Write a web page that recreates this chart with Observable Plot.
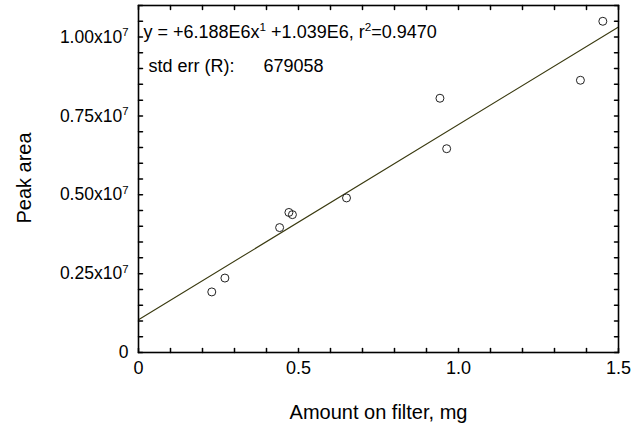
<!DOCTYPE html>
<html>
<head>
<meta charset="utf-8">
<script src="https://cdn.jsdelivr.net/npm/d3@7"></script>
<script src="https://cdn.jsdelivr.net/npm/@observablehq/plot@0.6"></script>
<style>
  html, body { margin: 0; padding: 0; background: #fff; }
  svg { font-family: "Liberation Sans", Arial, sans-serif; }
</style>
</head>
<body>
<div id="chart"></div>
<script>
// Data
const amount = [0.229, 0.270, 0.441, 0.470, 0.481, 0.650, 0.942, 0.963, 1.381, 1.451];
const peakArea = [1.92e6, 2.36e6, 3.96e6, 4.44e6, 4.37e6, 4.90e6, 8.06e6, 6.46e6, 8.63e6, 10.50e6];

// Fitted line reported on the chart
const slope = 6.188e6;
const intercept = 1.039e6;
const fitX = [0, 1.5];

// Tick values
const xMajor = [0, 0.5, 1.0, 1.5];
const xMajorLabels = ["0", "0.5", "1.0", "1.5"];
const xMinor = d3.range(0, 16).map(i => i / 10);
const yMajor = [0, 0.25e7, 0.5e7, 0.75e7, 1.0e7];
const yMajorLabels = ["0", "0.25x10^7", "0.50x10^7", "0.75x10^7", "1.00x10^7"];
const yMinor = d3.range(0, 23).map(i => i * 0.05e7);

// Annotation texts
const eqText = ["y = +6.188E6x^1 +1.039E6, r^2=0.9470"];
const errLabel = ["std err (R):"];
const errValue = ["679058"];
const xTitle = ["Amount on filter, mg"];
const yTitle = ["Peak area"];

const points = amount.map((a, i) => ({x: a, y: peakArea[i]}));
const fit = fitX.map(x => ({x, y: slope * x + intercept}));

const tickShape = {draw(context, l) { context.moveTo(0, 0); context.lineTo(0, -l); }};
const tickLen = 4;

const chart = Plot.plot({
  width: 642,
  height: 435,
  marginLeft: 138,
  marginRight: 24,
  marginTop: 5,
  marginBottom: 83,
  style: {fontFamily: '"Liberation Sans", Arial, sans-serif', background: "#fff"},
  x: {domain: [0, 1.5]},
  y: {domain: [0, 1.1e7]},
  marks: [
    Plot.axisX({anchor: "bottom", ticks: xMajor, tickSize: 0, tickPadding: 9, tickFormat: d => xMajorLabels[xMajor.indexOf(d)], fontSize: 18, label: null, fill: "#000"}),
    Plot.axisY({anchor: "left", ticks: yMajor, tickSize: 0, tickPadding: 10, tickFormat: d => yMajorLabels[yMajor.indexOf(d)], fontSize: 17.5, label: null, fill: "#000"}),
    // inward tick marks on all four sides
    Plot.vector(xMinor, {x: d => d, frameAnchor: "bottom", rotate: 0, length: tickLen, anchor: "start", shape: tickShape, stroke: "#000"}),
    Plot.vector(xMinor, {x: d => d, frameAnchor: "top", rotate: 180, length: tickLen, anchor: "start", shape: tickShape, stroke: "#000"}),
    Plot.vector(yMinor, {y: d => d, frameAnchor: "left", rotate: 90, length: tickLen, anchor: "start", shape: tickShape, stroke: "#000"}),
    Plot.vector(yMinor, {y: d => d, frameAnchor: "right", rotate: -90, length: tickLen, anchor: "start", shape: tickShape, stroke: "#000"}),
    Plot.line(fit, {x: "x", y: "y", stroke: "#3a3a10", strokeWidth: 1.1}),
    Plot.dot(points, {x: "x", y: "y", r: 4, stroke: "#222", strokeWidth: 1, fill: "none"}),
    Plot.frame({stroke: "#000", strokeWidth: 1.6}),
    Plot.text(eqText, {frameAnchor: "top-left", dx: 5, dy: 32, lineAnchor: "bottom", textAnchor: "start", fontSize: 18, fill: "#000"}),
    Plot.text(errLabel, {frameAnchor: "top-left", dx: 10, dy: 66, lineAnchor: "bottom", textAnchor: "start", fontSize: 18, fill: "#000"}),
    Plot.text(errValue, {frameAnchor: "top-left", dx: 125, dy: 66, lineAnchor: "bottom", textAnchor: "start", fontSize: 18, fill: "#000"}),
    Plot.text(xTitle, {frameAnchor: "bottom", dy: 66, lineAnchor: "bottom", fontSize: 20, fill: "#000"}),
    Plot.text(yTitle, {frameAnchor: "left", dx: -114, dy: -1, rotate: -90, lineAnchor: "middle", textAnchor: "middle", fontSize: 20, fill: "#000"})
  ]
});

// Render "^n" markers as real superscript tspans
d3.select(chart).selectAll("text").each(function() {
  const t = d3.select(this);
  if (this.querySelector("tspan")) return;
  const s = this.textContent;
  if (!s.includes("^")) return;
  const parts = s.split(/\^(\S)/);
  t.text(null);
  let raised = false;
  parts.forEach((p, i) => {
    if (p === "") return;
    if (i % 2 === 1) {
      t.append("tspan").attr("dy", "-6.5").attr("font-size", "0.65em").text(p);
      raised = true;
    } else {
      const span = t.append("tspan").text(p);
      if (raised) { span.attr("dy", "6.5"); raised = false; }
    }
  });
});

document.getElementById("chart").appendChild(chart);
</script>
</body>
</html>
